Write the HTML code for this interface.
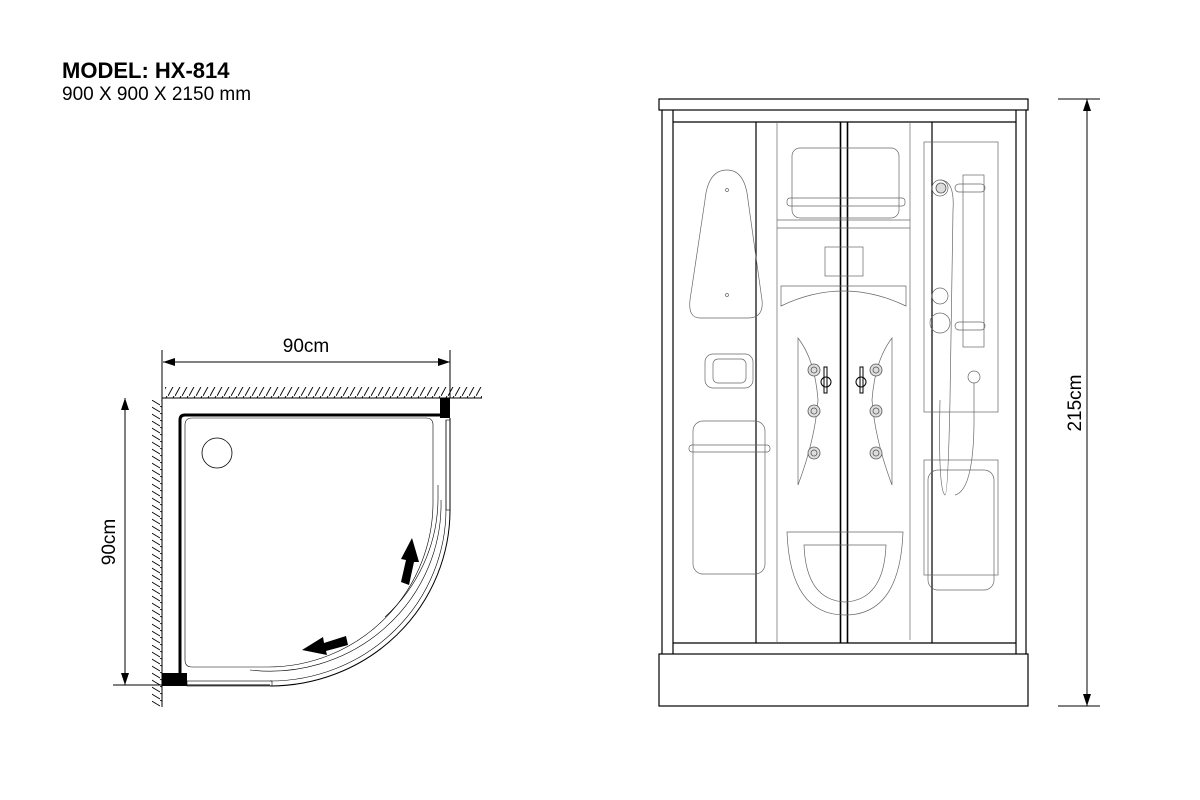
<!DOCTYPE html>
<html><head><style>
html,body{margin:0;padding:0;background:#fff;}
svg{display:block;font-family:"Liberation Sans",Arial,sans-serif;}
</style></head><body>
<svg width="1200" height="800" viewBox="0 0 1200 800" xmlns="http://www.w3.org/2000/svg">
<defs>
<pattern id="hh" width="7" height="11" patternUnits="userSpaceOnUse">
<line x1="0" y1="11" x2="6" y2="0" stroke="#000" stroke-width="0.9"/>
</pattern>
<pattern id="hv" width="10" height="7" patternUnits="userSpaceOnUse">
<line x1="0" y1="0" x2="10" y2="6" stroke="#000" stroke-width="0.9"/>
</pattern>
</defs>
<text x="62" y="78" font-size="22" font-weight="bold">MODEL: HX-814</text>
<text x="62" y="100" font-size="19">900 X 900 X 2150 mm</text>

<!-- Plan view -->
<rect x="165" y="387" width="317" height="11" fill="url(#hh)"/>
<line x1="162" y1="398" x2="482" y2="398" stroke="#000" stroke-width="1"/>
<rect x="152" y="400" width="10" height="307" fill="url(#hv)"/>
<line x1="162" y1="387" x2="162" y2="707" stroke="#000" stroke-width="1"/>
<line x1="163" y1="362" x2="450" y2="362" stroke="#000" stroke-width="1"/>
<polygon points="163,362 175,358 175,366" fill="#000"/>
<polygon points="450,362 438,358 438,366" fill="#000"/>
<line x1="162" y1="350" x2="162" y2="387" stroke="#000"/>
<line x1="450" y1="350" x2="450" y2="398" stroke="#000"/>
<text x="306" y="352" font-size="19" text-anchor="middle">90cm</text>
<line x1="125" y1="398" x2="125" y2="685" stroke="#000"/>
<polygon points="125,398 121,410 129,410" fill="#000"/>
<polygon points="125,685 121,673 129,673" fill="#000"/>
<line x1="113" y1="685" x2="270" y2="685" stroke="#000"/>
<text transform="translate(115,542) rotate(-90)" font-size="19" text-anchor="middle">90cm</text>
<path d="M180,685 L180,420 Q180,415 185,415 L442,415" fill="none" stroke="#000" stroke-width="3"/>
<rect x="440" y="398" width="10" height="20" fill="#000"/>
<rect x="162" y="673" width="25" height="13" fill="#000"/>
<path d="M185,425 Q185,418 192,418 L426,418 Q433,418 433,425 L433,500 A165 165 0 0 1 268,667 L192,667 Q185,667 185,660 Z" fill="none" stroke="#000" stroke-width="0.6"/>
<path d="M450,418 L450,510 A180 176 0 0 1 270,686" fill="none" stroke="#000" stroke-width="1"/>
<path d="M446,420 L446,508 A176 172 0 0 1 270,681" fill="none" stroke="#000" stroke-width="0.6"/>
<path d="M441,500 A171 167 0 0 1 250,670" fill="none" stroke="#000" stroke-width="0.6"/>
<path d="M438,485 L438,500 A167 163 0 0 1 385,617" fill="none" stroke="#000" stroke-width="0.6"/>
<rect x="446" y="420" width="4" height="90" fill="none" stroke="#000" stroke-width="0.6"/>
<rect x="187" y="681" width="85" height="5" fill="none" stroke="#000" stroke-width="0.6"/>
<circle cx="217" cy="453" r="15" fill="none" stroke="#000" stroke-width="0.8"/>
<polygon points="412,538 419,562 414,562 409,585 401,582 406,560 401,559" fill="#000"/>
<polygon points="302,650 323,637 324,643 346,636 348,645 326,651 327,655" fill="#000"/>

<!-- Elevation -->
<g fill="none" stroke="#000" stroke-width="1.2">
<rect x="659" y="99" width="369" height="11"/>
<line x1="662" y1="110" x2="662" y2="654"/>
<line x1="673" y1="110" x2="673" y2="654"/>
<line x1="1016" y1="110" x2="1016" y2="654"/>
<line x1="1026" y1="110" x2="1026" y2="654"/>
<line x1="673" y1="122" x2="1016" y2="122"/>
<line x1="673" y1="643" x2="1016" y2="643"/>
<line x1="756" y1="122" x2="756" y2="643"/>
<line x1="932" y1="122" x2="932" y2="643"/>
<line x1="840.5" y1="122" x2="840.5" y2="643" stroke-width="1.6"/>
<line x1="847.5" y1="122" x2="847.5" y2="643" stroke-width="1.6"/>
<rect x="659" y="654" width="369" height="52"/>
</g>
<g fill="none" stroke="#666" stroke-width="0.7">
<line x1="777" y1="122" x2="777" y2="643"/>
<line x1="910" y1="122" x2="910" y2="640"/>
<path d="M727,170 Q745,170 748,200 L762,300 Q764,318 748,318 L700,318 Q688,318 690,300 L705,200 Q708,170 727,170 Z"/>
<circle cx="727" cy="190" r="1.5"/><circle cx="727" cy="295" r="1.5"/>
<rect x="705" y="354" width="48" height="34" rx="8"/>
<rect x="713" y="359" width="33" height="24" rx="5"/>
<rect x="693" y="421" width="72" height="153" rx="10"/>
<rect x="689" y="445" width="81" height="7" rx="3"/>
<rect x="792" y="148" width="107" height="70" rx="8"/>
<rect x="787" y="198" width="118" height="8" rx="3"/>
<line x1="777" y1="220" x2="910" y2="220"/>
<line x1="777" y1="228" x2="910" y2="228"/>
<rect x="825" y="247" width="38" height="29"/>
<path d="M781,286 L906,286 L906,306 Q843,276 781,306 Z"/>
<path d="M798,338 Q815,360 818,400 Q815,440 798,485 Z"/>
<path d="M892,338 Q875,360 872,400 Q875,440 892,485 Z"/>
<path d="M787,532 L903,532 Q900,615 845,615 Q790,615 787,532 Z"/>
<path d="M804,545 L886,545 Q884,600 845,602 Q806,600 804,545 Z"/>
<rect x="924" y="142" width="74" height="270"/>
<rect x="963" y="175" width="21" height="172"/>
<rect x="955" y="184" width="30" height="8" rx="4"/>
<rect x="955" y="322" width="30" height="8" rx="4"/>
<circle cx="940" cy="188" r="8"/>
<path d="M940,180 Q955,180 953,210 L950,400 Q948,495 945,495 Q938,490 940,400"/>
<circle cx="974" cy="377" r="6"/>
<path d="M974,383 L974,410 Q975,490 955,495"/>
<circle cx="940" cy="296" r="8"/><circle cx="940" cy="323" r="10"/>
<rect x="924" y="460" width="74" height="115"/>
<rect x="928" y="470" width="66" height="120" rx="10"/>
</g>
<g fill="#ddd" stroke="#555" stroke-width="0.8">
<circle cx="814" cy="370" r="6"/><circle cx="814" cy="411" r="6"/><circle cx="814" cy="453" r="6"/>
<circle cx="876" cy="370" r="6"/><circle cx="876" cy="411" r="6"/><circle cx="876" cy="453" r="6"/>
<circle cx="814" cy="370" r="3"/><circle cx="814" cy="411" r="3"/><circle cx="814" cy="453" r="3"/>
<circle cx="876" cy="370" r="3"/><circle cx="876" cy="411" r="3"/><circle cx="876" cy="453" r="3"/>
<circle cx="941" cy="188" r="5"/>
</g>
<g fill="none" stroke="#000" stroke-width="1">
<rect x="824" y="367" width="3" height="26"/><circle cx="826" cy="382" r="5"/>
<rect x="860" y="367" width="3" height="26"/><circle cx="861" cy="382" r="5"/>
</g>
<line x1="1087" y1="99" x2="1087" y2="706" stroke="#000"/>
<line x1="1058" y1="99" x2="1100" y2="99" stroke="#000"/>
<line x1="1058" y1="706" x2="1100" y2="706" stroke="#000"/>
<polygon points="1087,99 1083,111 1091,111" fill="#000"/>
<polygon points="1087,706 1083,694 1091,694" fill="#000"/>
<text transform="translate(1081,403) rotate(-90)" font-size="19" text-anchor="middle">215cm</text>
</svg>
</body></html>
